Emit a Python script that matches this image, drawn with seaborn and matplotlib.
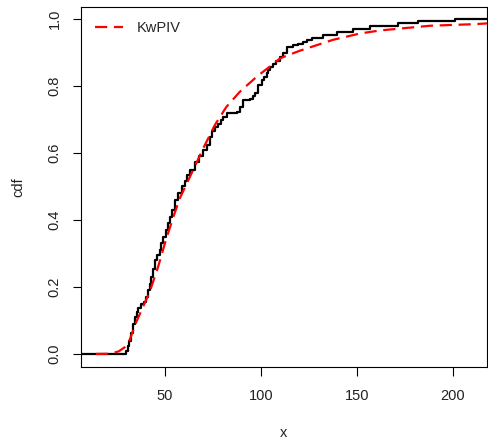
import matplotlib
matplotlib.use("Agg")
import matplotlib.pyplot as plt
import seaborn as sns
import pandas as pd

ecdf_x = [29.8, 30.5, 31.5, 32.4, 33.3, 34.2, 35.2, 35.9, 37.5, 39.1, 40.1, 41.1,
          42.0, 42.9, 43.75, 44.6, 45.8, 47.2, 48.1, 49.0, 50.3, 51.6, 52.6, 53.6,
          55.4, 57.0, 58.7, 60.2, 61.5, 63.0, 65.6, 67.7, 69.9, 71.7, 73.4, 74.7,
          76.0, 77.8, 79.2, 80.4, 82.1, 84.9, 87.3, 89.1, 90.8, 94.3, 95.8, 96.9,
          98.6, 100.4, 101.6, 103.0, 103.9, 104.7, 106.25, 107.8, 109.9, 111.5,
          113.4, 116.7, 119.3, 121.9, 123.9, 126.4, 132.3, 139.4, 147.9, 156.8,
          171.2, 181.8, 201.0]
ecdf_F = [0.010, 0.025, 0.040, 0.063, 0.090, 0.111, 0.125, 0.137, 0.150, 0.156, 0.170, 0.190,
          0.210, 0.230, 0.255, 0.280, 0.295, 0.310, 0.330, 0.350, 0.370, 0.390, 0.410, 0.430,
          0.460, 0.480, 0.500, 0.515, 0.535, 0.550, 0.574, 0.590, 0.609, 0.624, 0.649, 0.665,
          0.678, 0.688, 0.700, 0.708, 0.718, 0.720, 0.723, 0.738, 0.758, 0.760, 0.770, 0.778,
          0.803, 0.818, 0.828, 0.838, 0.848, 0.858, 0.865, 0.875, 0.887, 0.900,
          0.917, 0.922, 0.927, 0.932, 0.938, 0.944, 0.952, 0.962, 0.970, 0.980,
          0.987, 0.993, 1.000]

# Fitted KwPIV cdf
fit_x = [14, 20, 23, 26, 29, 31.6, 35, 38.5, 42, 46.4, 50.7, 55, 57.8, 64.7, 70, 76,
         82, 89, 97.8, 105, 110, 120, 137.5, 151.6, 162, 188, 212, 217.7]
fit_F = [0.0, 0.0005, 0.003, 0.008, 0.02, 0.042, 0.095, 0.14, 0.185, 0.26, 0.345, 0.42,
         0.466, 0.55, 0.615, 0.684, 0.738, 0.783, 0.828, 0.86, 0.883, 0.905, 0.938,
         0.957, 0.966, 0.98, 0.985, 0.987]

x_ticks = [50, 100, 150, 200]
y_ticks = [0.0, 0.2, 0.4, 0.6, 0.8, 1.0]
xlim = (6.25, 217.7)
ylim = (-0.039, 1.036)

sns.set_style("ticks")
plt.rcParams['font.family'] = ['Liberation Sans', 'DejaVu Sans']

fig = plt.figure(figsize=(4.88, 4.41), dpi=100)
ax = fig.add_axes([81/488, 74/441, 406/488, 360/441])

ex = [xlim[0]] + ecdf_x + [xlim[1]]
ey = [0.0] + ecdf_F + [ecdf_F[-1]]
df_e = pd.DataFrame({"x": ex, "F": ey})
df_f = pd.DataFrame({"x": fit_x, "F": fit_F})

sns.lineplot(data=df_e, x="x", y="F", ax=ax, color="black", linewidth=1.6,
             drawstyle="steps-post", estimator=None, sort=False, zorder=2)
sns.lineplot(data=df_f, x="x", y="F", ax=ax, color="#ff0000", linewidth=1.6,
             linestyle=(0, (5.5, 3.0)), estimator=None, sort=False, zorder=3,
             label="KwPIV")

fs = 10.5
ax.set_xlim(*xlim)
ax.set_ylim(*ylim)
ax.set_xticks(x_ticks)
ax.set_xticklabels([str(v) for v in x_ticks])
ax.set_yticks(y_ticks)
ax.set_yticklabels([f"{v:.1f}" for v in y_ticks], rotation=90, va="center")
ax.tick_params(axis="x", direction="out", length=6.5, width=0.8, color="black",
               labelsize=fs, labelcolor="#222222", pad=9)
ax.tick_params(axis="y", direction="out", length=6, width=0.8, color="black",
               labelsize=fs, labelcolor="#222222", pad=8)
for s in ax.spines.values():
    s.set_visible(True)
    s.set_color("black")
    s.set_linewidth(0.8)
ax.set_xlabel("x", fontsize=fs, labelpad=17, color="#222222")
ax.set_ylabel("cdf", fontsize=fs, labelpad=16, color="#222222")

leg = ax.legend(loc="upper left", frameon=False, fontsize=fs, handlelength=1.9,
                handletextpad=1.0, borderaxespad=0.55)

fig.savefig("out.png", dpi=100)
